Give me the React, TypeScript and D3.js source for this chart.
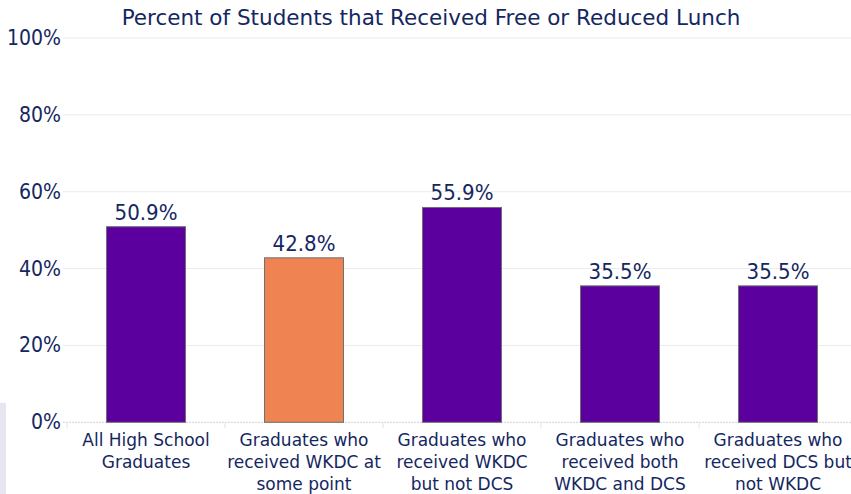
import React from "react";
import * as d3 from "d3";

const categories: string[][] = [
  ["All High School", "Graduates"],
  ["Graduates who", "received WKDC at", "some point"],
  ["Graduates who", "received WKDC", "but not DCS"],
  ["Graduates who", "received both", "WKDC and DCS"],
  ["Graduates who", "received DCS but", "not WKDC"],
];
const values: number[] = [50.9, 42.8, 55.9, 35.5, 35.5];
const highlight: boolean[] = [false, true, false, false, false];
const yTicks: number[] = [0, 20, 40, 60, 80, 100];
const title = "Percent of Students that Received Free or Reduced Lunch";

const W = 851;
const H = 494;
const FONT_NUM = "'DejaVu Sans Condensed', 'DejaVu Sans', sans-serif";
const FONT_TXT = "'DejaVu Sans', sans-serif";
const TEXT = "#15275f";
const PURPLE = "#5b009f";
const ORANGE = "#ef8352";

export default function App() {
  const x = d3
    .scaleBand<number>()
    .domain(categories.map((_, i) => i))
    .range([67, 857])
    .paddingInner(0)
    .paddingOuter(0);
  const y = d3.scaleLinear().domain([0, 100]).range([422.3, 38]);
  const bw = x.bandwidth() / 2;
  const boundaries = categories.map((_, i) => x(i)!).concat([x(categories.length - 1)! + x.bandwidth()]);

  return (
    <svg
      width={W}
      height={H}
      style={{ position: "absolute", left: 0, top: 0, background: "#fff" }}
    >
      <rect x={0} y={0} width={W} height={H} fill="#fff" />
      <rect x={0} y={403} width={6} height={H - 403} fill="#e6e6f1" />
      <text x={431} y={25} textAnchor="middle" fontSize={21.5} fill={TEXT} fontFamily={FONT_TXT}>
        {title}
      </text>
      {yTicks.map((t) => (
        <g key={t}>
          {t > 0 && (
            <line x1={63} x2={W} y1={y(t)} y2={y(t)} stroke="#ebebeb" strokeWidth={1} />
          )}
          <text x={61} y={y(t) + 7} textAnchor="end" fontSize={21} fill={TEXT} fontFamily={FONT_NUM}>
            {t}%
          </text>
        </g>
      ))}
      <line x1={63} x2={W} y1={y(0)} y2={y(0)} stroke="#d0d0d0" strokeWidth={1} strokeDasharray="2,1" />
      {boundaries.map((b, i) => (
        <line key={i} x1={b} x2={b} y1={y(0)} y2={y(0) + 6} stroke="#e4e4e4" strokeWidth={1} />
      ))}
      {values.map((v, i) => {
        const cx = x(i)! + x.bandwidth() / 2;
        return (
          <g key={i}>
            <rect
              x={cx - bw / 2}
              y={y(v)}
              width={bw}
              height={y(0) - y(v)}
              fill={highlight[i] ? ORANGE : PURPLE}
              stroke="#707070"
              strokeWidth={1}
            />
            <text x={cx} y={y(v) - 7} textAnchor="middle" fontSize={22} fill={TEXT} fontFamily={FONT_NUM}>
              {v.toFixed(1)}%
            </text>
            {categories[i].map((line, j) => (
              <text key={j} x={cx} y={446 + j * 22} textAnchor="middle" fontSize={17} fill={TEXT} fontFamily={FONT_TXT}>
                {line}
              </text>
            ))}
          </g>
        );
      })}
    </svg>
  );
}
